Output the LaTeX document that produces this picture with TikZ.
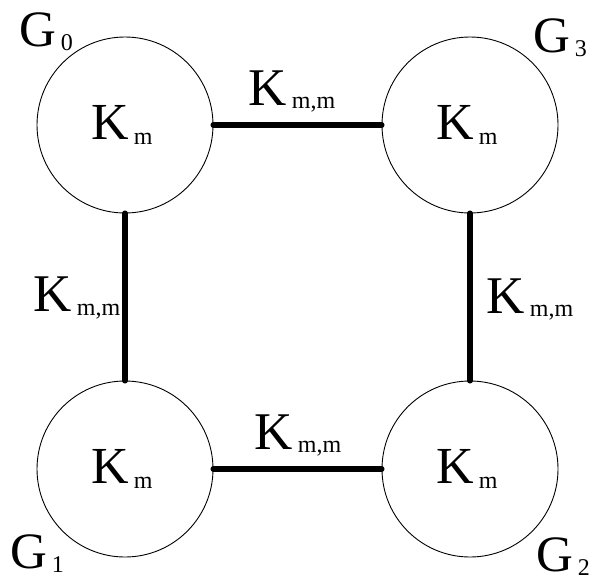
\documentclass[tikz,border=0pt]{standalone}
\usepackage{fontspec}
\setmainfont{Liberation Serif}
\usetikzlibrary{positioning}
\newcommand{\lowsub}[2][4pt]{\kern5pt\raisebox{-#1}{\fontsize{24}{24}\selectfont #2}}

\begin{document}
\begin{tikzpicture}[x=1pt, y=-1pt,
  subgraph/.style={draw, circle, minimum size=176pt, inner sep=0pt, line width=0.9pt, font=\fontsize{52}{60}\selectfont},
  bundle/.style={line width=6pt, line cap=round},
  gname/.style={inner sep=0pt, anchor=base, font=\fontsize{51}{60}\selectfont},
  klabel/.style={inner sep=0pt, anchor=base, font=\fontsize{53}{60}\selectfont}]
\useasboundingbox (0,0) rectangle (591,581);
\node[subgraph] (g0) at (125,125) {\kern-6pt K\lowsub[5pt]{m}};
\node[subgraph] (g3) at (470,125) {\kern-6pt K\lowsub[5pt]{m}};
\node[subgraph] (g1) at (125,469) {\kern-6pt K\lowsub[5pt]{m}};
\node[subgraph] (g2) at (470,469) {\kern-6pt K\lowsub[5pt]{m}};
\node[gname] (n0) at (46,46) {G\lowsub{0}};
\node[gname] (n3) at (560,52) {G\lowsub{3}};
\node[gname] (n1) at (37,568) {G\lowsub{1}};
\node[gname] (n2) at (563,571) {G\lowsub{2}};
\draw[bundle] (g0) -- (g3);
\draw[bundle] (g0) -- (g1);
\draw[bundle] (g3) -- (g2);
\draw[bundle] (g1) -- (g2);
\node[klabel] (k03) at (292,105) {K\lowsub[3pt]{m,m}};
\node[klabel] (k01) at (77,311) {K\lowsub{m,m}};
\node[klabel] (k32) at (530,313) {K\lowsub[3pt]{m,m}};
\node[klabel] (k12) at (298,449) {K\lowsub[3pt]{m,m}};
\end{tikzpicture}
\end{document}
